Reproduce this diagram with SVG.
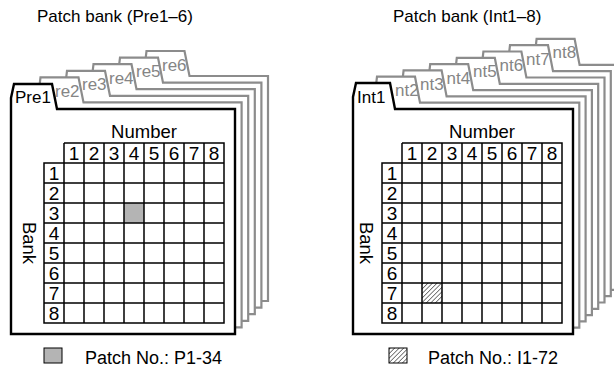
<svg xmlns="http://www.w3.org/2000/svg" width="614" height="369" viewBox="0 0 614 369">
<defs>
<style>
text{font-family:"Liberation Sans",Arial,sans-serif;fill:#000}
.title{font-size:17px}
.tab{font-size:17px}
.tabg{font-size:17px;fill:#858585}
.num{font-size:19px;text-anchor:middle}
.lbl{font-size:18.5px;text-anchor:middle}
.leg{font-size:18px}
.back{fill:#fff;stroke:#8c8c8c;stroke-width:2.2;stroke-linejoin:miter}
.front{fill:#fff;stroke:#000;stroke-width:2.4;stroke-linejoin:miter}
.grid{fill:none;stroke:#000;stroke-width:1.5}
</style>
<pattern id="hatch" patternUnits="userSpaceOnUse" width="3.2" height="3.2" patternTransform="rotate(45)">
<rect width="3.2" height="3.2" fill="#fff"/>
<line x1="0" y1="0" x2="0" y2="3.2" stroke="#000" stroke-width="1"/>
</pattern>
</defs>
<rect width="614" height="369" fill="#fff"/>

<text class="title" x="37" y="22">Patch bank (Pre1–6)</text>
<text class="title" x="393" y="22">Patch bank (Int1–8)</text>

<g id="pre-stack">
<g id="pre6"><polygon class="back" points="143.5,301 143.5,76 146.5,51 184.5,51 189.5,76 268,76 268,301"/><text class="tabg" x="162" y="70.5">re6</text></g>
<g id="pre5"><polygon class="back" points="117,307.6 117,82.6 120,57.6 158,57.6 163,82.6 261.4,82.6 261.4,307.6"/><text class="tabg" x="136" y="77.1">re5</text></g>
<g id="pre4"><polygon class="back" points="90.5,314.2 90.5,89.2 93.5,64.2 131.5,64.2 136.5,89.2 254.8,89.2 254.8,314.2"/><text class="tabg" x="109" y="83.7">re4</text></g>
<g id="pre3"><polygon class="back" points="64,320.8 64,95.8 67,70.8 105,70.8 110,95.8 248.2,95.8 248.2,320.8"/><text class="tabg" x="82" y="90.3">re3</text></g>
<g id="pre2"><polygon class="back" points="37.5,327.4 37.5,102.4 40.5,77.4 78.5,77.4 83.5,102.4 241.6,102.4 241.6,327.4"/><text class="tabg" x="55" y="96.9">re2</text></g>
<g id="pre1">
<polygon class="front" points="11,334 11,98 14,84 52,84 57,109 235,109 235,334"/>
<text class="tab" x="15" y="102.5">Pre1</text>
<text class="lbl" x="144" y="138">Number</text>
<text class="lbl" transform="translate(23,243) rotate(90)">Bank</text>
<rect x="124" y="203" width="20" height="20" fill="#b4b4b4"/>
<path class="grid" d="M64,143H224V323H44V163H224M84,143V323M104,143V323M124,143V323M144,143V323M164,143V323M184,143V323M204,143V323M44,183H224M44,203H224M44,223H224M44,243H224M44,263H224M44,283H224M44,303H224M64,143V323"/>
<g class="num">
<text x="74" y="160">1</text><text x="94" y="160">2</text><text x="114" y="160">3</text><text x="134" y="160">4</text><text x="154" y="160">5</text><text x="174" y="160">6</text><text x="194" y="160">7</text><text x="214" y="160">8</text>
<text x="54" y="180">1</text><text x="54" y="200">2</text><text x="54" y="220">3</text><text x="54" y="240">4</text><text x="54" y="260">5</text><text x="54" y="280">6</text><text x="54" y="300">7</text><text x="54" y="320">8</text>
</g>
</g>
</g>

<g id="int-stack">
<g id="int8"><polygon class="back" points="533.6,289.9 533.6,64.9 536.6,38.9 574.6,38.9 579.6,64.9 617.1,64.9 617.1,289.9"/><text class="tabg" x="552.5" y="58.4">nt8</text></g>
<g id="int7"><polygon class="back" points="507,296.2 507,71.2 510,45.2 548,45.2 553,71.2 610.8,71.2 610.8,296.2"/><text class="tabg" x="526" y="64.7">nt7</text></g>
<g id="int6"><polygon class="back" points="480.4,302.5 480.4,77.5 483.4,51.5 521.4,51.5 526.4,77.5 604.5,77.5 604.5,302.5"/><text class="tabg" x="499.5" y="71">nt6</text></g>
<g id="int5"><polygon class="back" points="453.8,308.8 453.8,83.8 456.8,57.8 494.8,57.8 499.8,83.8 598.2,83.8 598.2,308.8"/><text class="tabg" x="473" y="77.3">nt5</text></g>
<g id="int4"><polygon class="back" points="427.2,315.1 427.2,90.1 430.2,64.1 468.2,64.1 473.2,90.1 591.9,90.1 591.9,315.1"/><text class="tabg" x="446.5" y="83.6">nt4</text></g>
<g id="int3"><polygon class="back" points="400.6,321.4 400.6,96.4 403.6,70.4 441.6,70.4 446.6,96.4 585.6,96.4 585.6,321.4"/><text class="tabg" x="420" y="89.9">nt3</text></g>
<g id="int2"><polygon class="back" points="374,327.7 374,102.7 377,76.7 415,76.7 420,102.7 579.3,102.7 579.3,327.7"/><text class="tabg" x="395" y="96.2">nt2</text></g>
<g id="int1">
<polygon class="front" points="353,334 353,97 356,83 390,83 395,109 573,109 573,334"/>
<text class="tab" x="357" y="102.5">Int1</text>
<text class="lbl" x="482" y="138">Number</text>
<text class="lbl" transform="translate(360,243) rotate(90)">Bank</text>
<rect x="422" y="283" width="20" height="20" fill="url(#hatch)"/>
<path class="grid" d="M402,143H562V323H382V163H562M422,143V323M442,143V323M462,143V323M482,143V323M502,143V323M522,143V323M542,143V323M382,183H562M382,203H562M382,223H562M382,243H562M382,263H562M382,283H562M382,303H562M402,143V323"/>
<g class="num">
<text x="412" y="160">1</text><text x="432" y="160">2</text><text x="452" y="160">3</text><text x="472" y="160">4</text><text x="492" y="160">5</text><text x="512" y="160">6</text><text x="532" y="160">7</text><text x="552" y="160">8</text>
<text x="392" y="180">1</text><text x="392" y="200">2</text><text x="392" y="220">3</text><text x="392" y="240">4</text><text x="392" y="260">5</text><text x="392" y="280">6</text><text x="392" y="300">7</text><text x="392" y="320">8</text>
</g>
</g>
</g>

<g id="legend-pre">
<rect x="44" y="348" width="18" height="15" fill="#b4b4b4" stroke="#000" stroke-width="1"/>
<text class="leg" x="85" y="364">Patch No.: P1-34</text>
</g>
<g id="legend-int">
<rect x="389" y="348" width="18" height="15" fill="url(#hatch)" stroke="#000" stroke-width="1"/>
<text class="leg" x="428" y="364">Patch No.: I1-72</text>
</g>
</svg>
